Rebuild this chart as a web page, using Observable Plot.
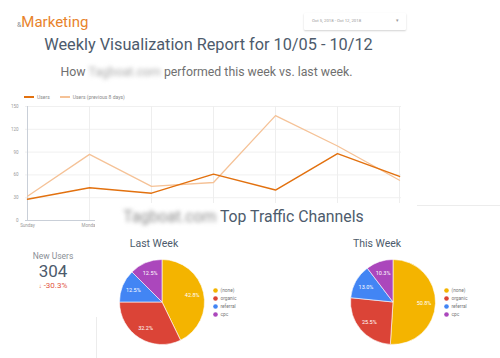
<!DOCTYPE html>
<html><head><meta charset="utf-8">
<script src="https://cdn.jsdelivr.net/npm/d3@7"></script>
<script src="https://cdn.jsdelivr.net/npm/@observablehq/plot@0.6"></script>
<style>
html,body{margin:0;padding:0;background:#fff;}
body{width:500px;height:358px;overflow:hidden;position:relative;font-family:Roboto,"Noto Sans",sans-serif;}
.abs{position:absolute;white-space:nowrap;line-height:1;}
.blur{filter:blur(2.2px);}
svg{overflow:visible;max-width:none !important;}
</style></head><body>
<script>
// ---- data ----
const days = ["Sunday","Monday","Tuesday","Wednesday","Thursday","Friday","Saturday"];
const visibleDayLabels = ["Sunday", "Monday"]; // the rest are hidden under the lower panel
const users = [28, 43, 36, 61, 40, 88, 58];
const usersPrev = [32, 87, 45, 50, 138, 98, 53];
const yTicks = [0, 30, 60, 90, 120, 150];
const seriesNames = ["Users", "Users (previous 8 days)"];
const seriesColors = ["#e2710f", "#f5c297"];
const channels = ["(none)", "organic", "referral", "cpc"];
const channelColors = ["#f4b400", "#db4437", "#4285f4", "#ab47bc"];
const lastWeek = [42.8, 32.2, 12.5, 12.5];
const thisWeek = [50.8, 25.5, 13.0, 10.3];
const newUsers = 304;
const newUsersChange = -30.3;

const body = document.body;
function el(tag, css, html) {
  const e = document.createElement(tag);
  e.className = "abs";
  e.style.cssText = css;
  if (html != null) e.innerHTML = html;
  body.appendChild(e);
  return e;
}

// ---- header ----
el("div", "left:17px;top:15px;font-size:15px;color:#e8832b;", '<span style="font-size:7px;color:#8a8f96;">&amp;</span>Marketing');
el("div", "left:304px;top:13px;width:102px;height:17px;background:#fff;box-shadow:0 1px 2px rgba(0,0,0,0.18);border-radius:1px;");
el("div", "left:312px;top:19px;font-size:4.3px;color:#9a9a9a;", "Oct 5, 2018 - Oct 12, 2018");
el("div", "left:396px;top:19px;font-size:4.5px;color:#9a9a9a;", "&#9662;");
el("div", "left:0;width:417px;text-align:center;top:37px;font-size:16.3px;color:#4d5b6c;", "Weekly Visualization Report for 10/05 - 10/12");
el("div", "left:0;width:413px;text-align:center;top:66px;font-size:12.3px;color:#707070;", 'How <span class="blur" style="display:inline-block;color:#a9a9a9;">Tagboat.com</span> performed this week vs. last week.');

// ---- line chart ----
const lineData = days.flatMap((d, i) => [
  {day: d, value: users[i], series: seriesNames[0]},
  {day: d, value: usersPrev[i], series: seriesNames[1]}
]);
const lineChart = Plot.plot({
  width: 420, height: 150,
  marginTop: 18, marginBottom: 18, marginLeft: 25, marginRight: 19,
  style: {fontFamily: "Roboto, sans-serif", fontSize: "4.5px", color: "#9a9a9a", background: "transparent"},
  x: {type: "point", domain: days, padding: 0, label: null},
  y: {domain: [0, 150], label: null},
  color: {domain: seriesNames, range: seriesColors},
  marks: [
    Plot.gridY(yTicks, {stroke: "#f0f0f0", strokeOpacity: 1}),
    Plot.gridX(days, {stroke: "#eeeeee", strokeOpacity: 1}),
    Plot.ruleY([0], {stroke: "#c9cfd8"}),
    Plot.ruleX([days[0]], {stroke: "#c9cfd8"}),
    Plot.axisY(yTicks, {tickSize: 0, tickPadding: 7, label: null}),
    Plot.axisX(visibleDayLabels, {tickSize: 0, tickPadding: 3, label: null}),
    Plot.line(lineData.filter(d => d.series === seriesNames[1]), {x: "day", y: "value", stroke: "series", strokeWidth: 1.3}),
    Plot.line(lineData.filter(d => d.series === seriesNames[0]), {x: "day", y: "value", stroke: "series", strokeWidth: 1.5})
  ]
});
const lc = document.createElement("div");
lc.className = "abs";
lc.style.cssText = "left:0;top:88px;width:420px;height:150px;";
lc.appendChild(lineChart);
body.appendChild(lc);

// line legend
const lg = el("div", "left:24px;top:94.5px;font-size:5px;color:#8a8a8a;display:flex;align-items:center;");
lg.innerHTML = seriesNames.map((s, i) =>
  `<span style="display:inline-block;width:10px;height:1.6px;background:${seriesColors[i]};margin-right:3px;"></span><span style="margin-right:10px;">${s}</span>`
).join("");

// ---- lower panels ----
el("div", "left:95px;top:203px;width:405px;height:155px;background:#fff;");
el("div", "left:417px;top:205px;width:83px;height:1px;background:#ececec;");
el("div", "left:96px;top:317px;width:1px;height:41px;background:#ececec;");
el("div", "left:0;width:487px;text-align:center;top:208.5px;font-size:15.8px;color:#4d5b6c;", '<span class="blur" style="display:inline-block;color:#8d8d8d;">Tagboat.com</span> Top Traffic Channels');

// new users scorecard
el("div", "left:0;width:106px;text-align:center;top:251.5px;font-size:8.5px;color:#8a8f96;", "New Users");
el("div", "left:0;width:106px;text-align:center;top:262.5px;font-size:17px;color:#4d5b6c;", String(newUsers));
el("div", "left:0;width:106px;text-align:center;top:282px;font-size:8px;color:#e2553f;", `<span style="font-size:6px;font-weight:bold;">&#8595;</span> ${newUsersChange.toFixed(1)}%`);

el("div", "left:104px;width:100px;text-align:center;top:239px;font-size:10.5px;color:#4d5b6c;", "Last Week");
el("div", "left:327px;width:100px;text-align:center;top:239px;font-size:10.5px;color:#4d5b6c;", "This Week");

function pieChart(values) {
  const data = channels.map((c, i) => ({channel: c, value: values[i]}));
  const r = 42.5;
  const pieMark = (index, scales, vals, dims) => {
    const cx = dims.height / 2 - 3, cy = dims.height / 2;
    const g = d3.create("svg:g").attr("transform", `translate(${cx},${cy})`);
    const arcs = d3.pie().sort(null).value(d => d.value)(data);
    const arc = d3.arc().innerRadius(0).outerRadius(r);
    const labelArc = d3.arc().innerRadius(r * 0.73).outerRadius(r * 0.73);
    g.selectAll("path").data(arcs).join("path")
      .attr("d", arc)
      .attr("fill", d => scales.color(d.data.channel))
      .attr("stroke", "#fff").attr("stroke-width", 0.6);
    g.selectAll("text").data(arcs).join("text")
      .attr("transform", d => `translate(${labelArc.centroid(d)})`)
      .attr("text-anchor", "middle").attr("dy", "0.35em")
      .attr("fill", "#fff").attr("font-size", 5.5)
      .text(d => d.data.value.toFixed(1) + "%");
    return g.node();
  };
  return Plot.plot({
    width: 175, height: 100,
    marginLeft: 100, marginRight: 0, marginTop: 37.5, marginBottom: 38.5,
    style: {fontFamily: "Roboto, sans-serif", background: "transparent", color: "#777", maxWidth: "none"},
    x: {axis: null},
    y: {type: "point", domain: channels, padding: 0, axis: null},
    color: {domain: channels, range: channelColors},
    marks: [
      pieMark,
      Plot.dot(data, {y: "channel", fill: "channel", r: 2.3, frameAnchor: "left"}),
      Plot.text(data, {y: "channel", text: "channel", frameAnchor: "left", dx: 5, textAnchor: "start", fontSize: 4.8, fill: "#777"})
    ]
  });
}
function place(node, left, top) {
  const d = document.createElement("div");
  d.className = "abs";
  d.style.cssText = `left:${left}px;top:${top}px;width:175px;height:100px;`;
  d.appendChild(node);
  body.appendChild(d);
}
place(pieChart(lastWeek), 115, 251.5);
place(pieChart(thisWeek), 346, 251.5);
</script>
</body></html>
